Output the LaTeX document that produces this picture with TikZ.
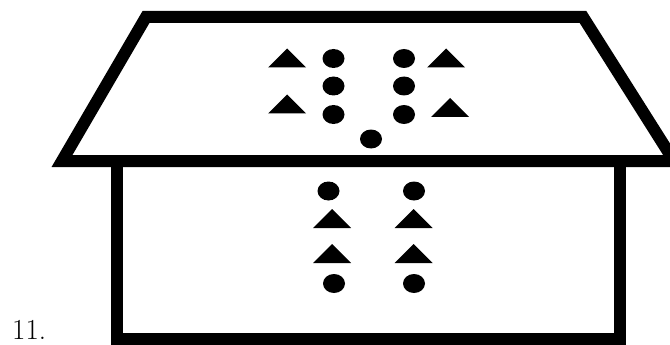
\documentclass[tikz,border=0pt]{standalone}
\usepackage{fix-cm}
\usepackage{tikz}
\tikzset{
  wall/.style={line width=12pt, line join=miter},
  tri/.pic={\fill (-19,9.5) -- (0,-9.5) -- (19,9.5) -- cycle;},
  dot/.pic={\fill (0,0) ellipse[x radius=11, y radius=9.5];}
}

\begin{document}
\begin{tikzpicture}[x=1pt, y=-1pt]
    \useasboundingbox (0,0) rectangle (670,345);
    \clip (0,0) rectangle (670,345);
    % house and roof
    \draw[wall] (117,161) rectangle (620,339);
    \draw[wall] (146,17) -- (583,17) -- (674,161) -- (62,161) -- cycle;
    % marks on the roof
    \foreach \x/\y in {287/58, 287/104, 446/58, 450/107.5}
      \pic at (\x,\y) {tri};
    \foreach \x/\y in {333.5/58.5, 333.5/86, 333.5/114.5, 404/58.5, 404/86, 404/114.5, 371/139}
      \pic at (\x,\y) {dot};
    % marks on the wall
    \foreach \x/\y in {332/218.5, 413.5/218.5, 332/253.5, 413.5/253.5}
      \pic at (\x,\y) {tri};
    \foreach \x/\y in {328.5/191, 414/191, 334/283.5, 414/283.5}
      \pic at (\x,\y) {dot};
    \node[anchor=base west, inner sep=0pt] (num) at (12,339) {\fontsize{29}{34}\selectfont 11.};
  \end{tikzpicture}
\end{document}
